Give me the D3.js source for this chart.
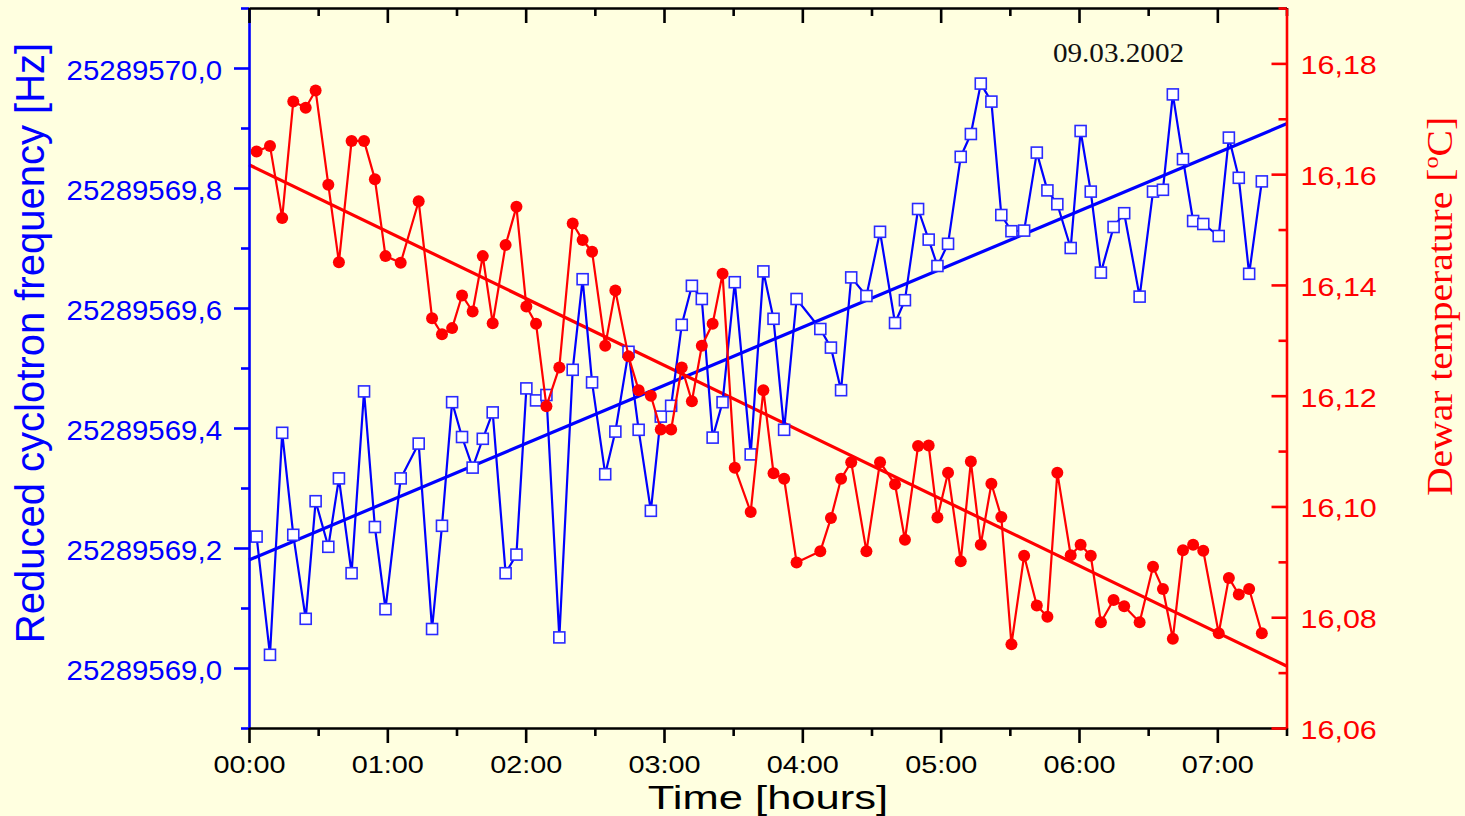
<!DOCTYPE html>
<html><head><meta charset="utf-8">
<script src="https://cdn.jsdelivr.net/npm/d3@7"></script>
<style>
html,body{margin:0;padding:0;background:#ffffe0;}
svg{display:block;}
</style></head><body>
<svg id="chart" width="1465" height="816"></svg>
<script>
// time of each measurement, minutes after 00:00
const timeMin = [3.3, 9.1, 14.4, 19.2, 24.6, 28.9, 34.4, 39.0, 44.5, 49.9,
  54.6, 59.2, 65.8, 73.6, 79.4, 83.7, 88.1, 92.4, 97.0, 101.4,
  105.7, 111.3, 116.0, 120.3, 124.5, 129.0, 134.6, 140.4, 144.7, 148.8,
  154.5, 158.9, 164.6, 169.0, 174.3, 178.6, 183.1, 187.7, 192.1, 196.4,
  201.1, 205.4, 210.7, 217.6, 223.1, 227.5, 232.1, 237.5, 247.8, 252.4,
  256.8, 261.2, 267.8, 273.7, 280.2, 284.5, 290.2, 294.8, 298.6, 303.2,
  308.7, 313.1, 317.4, 322.0, 326.3, 330.7, 336.2, 341.7, 346.3, 350.6,
  356.4, 360.7, 365.1, 369.5, 375.0, 379.6, 386.3, 392.1, 396.4, 400.7,
  405.1, 409.5, 413.9, 420.6, 425.0, 429.3, 433.8, 439.3];
// reduced cyclotron frequency [Hz]
const freqHz = [25289569.219, 25289569.022, 25289569.392, 25289569.222, 25289569.082, 25289569.278, 25289569.202, 25289569.316, 25289569.158, 25289569.461,
  25289569.235, 25289569.098, 25289569.316, 25289569.374, 25289569.065, 25289569.237, 25289569.443, 25289569.385, 25289569.334, 25289569.382,
  25289569.426, 25289569.158, 25289569.189, 25289569.466, 25289569.446, 25289569.455, 25289569.051, 25289569.497, 25289569.648, 25289569.476,
  25289569.323, 25289569.394, 25289569.527, 25289569.397, 25289569.262, 25289569.419, 25289569.437, 25289569.572, 25289569.637, 25289569.615,
  25289569.384, 25289569.443, 25289569.643, 25289569.356, 25289569.661, 25289569.582, 25289569.397, 25289569.615, 25289569.565, 25289569.534,
  25289569.463, 25289569.651, 25289569.620, 25289569.727, 25289569.575, 25289569.613, 25289569.765, 25289569.714, 25289569.670, 25289569.707,
  25289569.852, 25289569.890, 25289569.974, 25289569.944, 25289569.755, 25289569.728, 25289569.729, 25289569.859, 25289569.796, 25289569.773,
  25289569.700, 25289569.895, 25289569.794, 25289569.659, 25289569.735, 25289569.758, 25289569.619, 25289569.794, 25289569.797, 25289569.956,
  25289569.848, 25289569.745, 25289569.740, 25289569.720, 25289569.884, 25289569.817, 25289569.657, 25289569.811];
// dewar temperature [°C]
const tempC = [16.1641, 16.1651, 16.1521, 16.1731, 16.1720, 16.1751, 16.1581, 16.1441, 16.1660, 16.1660,
  16.1591, 16.1452, 16.1440, 16.1551, 16.1340, 16.1311, 16.1322, 16.1381, 16.1352, 16.1452,
  16.1331, 16.1472, 16.1541, 16.1361, 16.1330, 16.1181, 16.1251, 16.1511, 16.1481, 16.1460,
  16.1290, 16.1390, 16.1271, 16.1210, 16.1200, 16.1139, 16.1139, 16.1251, 16.1190, 16.1290,
  16.1330, 16.1420, 16.1070, 16.0990, 16.1210, 16.1060, 16.1050, 16.0899, 16.0919, 16.0979,
  16.1050, 16.1080, 16.0919, 16.1080, 16.1040, 16.0940, 16.1109, 16.1110, 16.0980, 16.1061,
  16.0901, 16.1081, 16.0931, 16.1041, 16.0981, 16.0751, 16.0911, 16.0821, 16.0801, 16.1061,
  16.0912, 16.0931, 16.0911, 16.0791, 16.0831, 16.0820, 16.0791, 16.0891, 16.0851, 16.0761,
  16.0921, 16.0931, 16.0920, 16.0771, 16.0871, 16.0841, 16.0851, 16.0771];
// linear fits (end points)
const fitTime = [0, 450];
const fitFreq = [25289569.18, 25289569.907];
const fitTemp = [16.1617, 16.0712];
// ticks
const freqTicks = [25289569.0, 25289569.2, 25289569.4, 25289569.6, 25289569.8, 25289570.0];
const freqMinor = [25289568.9, 25289569.1, 25289569.3, 25289569.5, 25289569.7, 25289569.9, 25289570.1];
const tempTicks = [16.06, 16.08, 16.10, 16.12, 16.14, 16.16, 16.18];
const tempMinor = [16.07, 16.09, 16.11, 16.13, 16.15, 16.17, 16.19];
const timeTicks = [0, 60, 120, 180, 240, 300, 360, 420];
const timeLabels = ["00:00", "01:00", "02:00", "03:00", "04:00", "05:00", "06:00", "07:00"];
const timeMinor = [30, 90, 150, 210, 270, 330, 390, 450];

const svg = d3.select("#chart");
const W = 1465, H = 816;
const L = 249, R = 1286.5, T = 8, B = 728;
const BLUE = "#0000ff", RED = "#ff0000";

svg.append("rect").attr("width", W).attr("height", H).attr("fill", "#ffffe0");

const x = d3.scaleLinear().domain([0, 450]).range([L, R]);
const yF = d3.scaleLinear().domain([25289568.9, 25289570.1]).range([B, T]);
const yT = d3.scaleLinear().domain([16.06, 16.19]).range([B, T]);

const loc = d3.formatLocale({decimal: ",", thousands: "", grouping: [3], currency: ["", ""]});
const f1 = loc.format(".1f"), f2 = loc.format(".2f");

function styleAxis(g, color, width) {
  g.selectAll("path.domain").attr("stroke", color).attr("stroke-width", width);
  g.selectAll(".tick line").attr("stroke", color).attr("stroke-width", width);
}
function scaleTexts(g, sx, font, size, color, dy) {
  g.selectAll(".tick text").each(function() {
    const t = d3.select(this);
    const tx = +t.attr("x") || 0, ty = +t.attr("y") || 0;
    t.attr("x", 0).attr("y", 0).attr("dy", dy)
      .attr("transform", `translate(${tx},${ty}) scale(${sx},1)`)
      .attr("font-family", font).attr("font-size", size).attr("fill", color);
  });
}

// ---- fit lines (behind data)
const fitIdx = [0, 1];
const lineF = d3.line().x(i => x(fitTime[i])).y(i => yF(fitFreq[i]));
const lineT = d3.line().x(i => x(fitTime[i])).y(i => yT(fitTemp[i]));
svg.append("path").attr("d", lineF(fitIdx)).attr("fill", "none").attr("stroke", BLUE).attr("stroke-width", 3.2);
svg.append("path").attr("d", lineT(fitIdx)).attr("fill", "none").attr("stroke", RED).attr("stroke-width", 3.2);

const idx = d3.range(timeMin.length);
// ---- frequency series
svg.append("path")
  .attr("d", d3.line().x(i => x(timeMin[i])).y(i => yF(freqHz[i]))(idx))
  .attr("fill", "none").attr("stroke", BLUE).attr("stroke-width", 2.2).attr("stroke-linejoin", "round");
svg.append("g").selectAll("rect").data(idx).join("rect")
  .attr("x", i => x(timeMin[i]) - 5.5).attr("y", i => yF(freqHz[i]) - 5.5)
  .attr("width", 11).attr("height", 11)
  .attr("fill", "#ffffff").attr("stroke", "#2a2aff").attr("stroke-width", 1.6);

// ---- temperature series
svg.append("path")
  .attr("d", d3.line().x(i => x(timeMin[i])).y(i => yT(tempC[i]))(idx))
  .attr("fill", "none").attr("stroke", RED).attr("stroke-width", 2.2).attr("stroke-linejoin", "round");
svg.append("g").selectAll("circle").data(idx).join("circle")
  .attr("cx", i => x(timeMin[i])).attr("cy", i => yT(tempC[i])).attr("r", 6)
  .attr("fill", RED);

// ---- left axis (blue)
const SANS = "'Liberation Sans', Arial, sans-serif";
const gL = svg.append("g").attr("transform", `translate(${L},0)`);
gL.call(d3.axisLeft(yF).tickValues(freqTicks).tickSize(15).tickSizeOuter(0).tickPadding(12).tickFormat(f1));
styleAxis(gL, BLUE, 2.6);
scaleTexts(gL, 1.09, SANS, 27, BLUE, "0.42em");
const gLm = svg.append("g").attr("transform", `translate(${L},0)`);
gLm.call(d3.axisLeft(yF).tickValues(freqMinor).tickSize(8).tickSizeOuter(0).tickFormat(""));
gLm.select("path.domain").remove();
styleAxis(gLm, BLUE, 2.6);

// ---- top axis (black, inward ticks)
const gT = svg.append("g").attr("transform", `translate(0,${T})`);
gT.call(d3.axisTop(x).tickValues(timeTicks).tickSizeInner(-15).tickSizeOuter(0).tickFormat(""));
styleAxis(gT, "#000", 2.6);
const gTm = svg.append("g").attr("transform", `translate(0,${T})`);
gTm.call(d3.axisTop(x).tickValues(timeMinor).tickSizeInner(-8).tickSizeOuter(0).tickFormat(""));
gTm.select("path.domain").remove();
styleAxis(gTm, "#000", 2.6);

// ---- bottom axis (black)
const gB = svg.append("g").attr("transform", `translate(0,${B})`);
gB.call(d3.axisBottom(x).tickValues(timeTicks).tickSize(15).tickSizeOuter(0).tickPadding(12)
  .tickFormat((d, i) => timeLabels[i]));
styleAxis(gB, "#000", 2.6);
scaleTexts(gB, 1.2, SANS, 24, "#000", "0.73em");
const gBm = svg.append("g").attr("transform", `translate(0,${B})`);
gBm.call(d3.axisBottom(x).tickValues(timeMinor).tickSize(8).tickSizeOuter(0).tickFormat(""));
gBm.select("path.domain").remove();
styleAxis(gBm, "#000", 2.6);

// ---- right axis (red, inward ticks)
const gR = svg.append("g").attr("transform", `translate(${R},0)`);
gR.call(d3.axisRight(yT).tickValues(tempTicks).tickSizeInner(-15).tickSizeOuter(0).tickPadding(14).tickFormat(f2));
styleAxis(gR, RED, 2.6);
scaleTexts(gR, 1.22, SANS, 25, RED, "0.42em");
const gRm = svg.append("g").attr("transform", `translate(${R},0)`);
gRm.call(d3.axisRight(yT).tickValues(tempMinor).tickSizeInner(-8).tickSizeOuter(0).tickFormat(""));
gRm.select("path.domain").remove();
styleAxis(gRm, RED, 2.6);

// ---- titles
svg.append("text")
  .attr("transform", "translate(43.5,343) rotate(-90)")
  .attr("text-anchor", "middle")
  .attr("font-family", SANS).attr("font-size", 40)
  .attr("fill", BLUE).text("Reduced cyclotron frequency [Hz]");

const rt = svg.append("text")
  .attr("transform", "translate(1452,306.5) rotate(-90) scale(1.1,1)")
  .attr("text-anchor", "middle")
  .attr("font-family", "'Liberation Serif', 'Times New Roman', serif").attr("font-size", 36)
  .attr("fill", RED);
rt.append("tspan").text("Dewar temperature [");
rt.append("tspan").attr("font-size", 22).attr("dy", -14).text("o");
rt.append("tspan").attr("dy", 14).text("C]");

svg.append("text")
  .attr("transform", "translate(768,808.6) scale(1.32,1)")
  .attr("text-anchor", "middle")
  .attr("font-family", SANS).attr("font-size", 33)
  .attr("fill", "#000").text("Time [hours]");

svg.append("text")
  .attr("transform", "translate(1118.5,61.5) scale(1.08,1)")
  .attr("text-anchor", "middle")
  .attr("font-family", "'Liberation Serif', 'Times New Roman', serif").attr("font-size", 27)
  .attr("fill", "#111").text("09.03.2002");
</script>
</body></html>
